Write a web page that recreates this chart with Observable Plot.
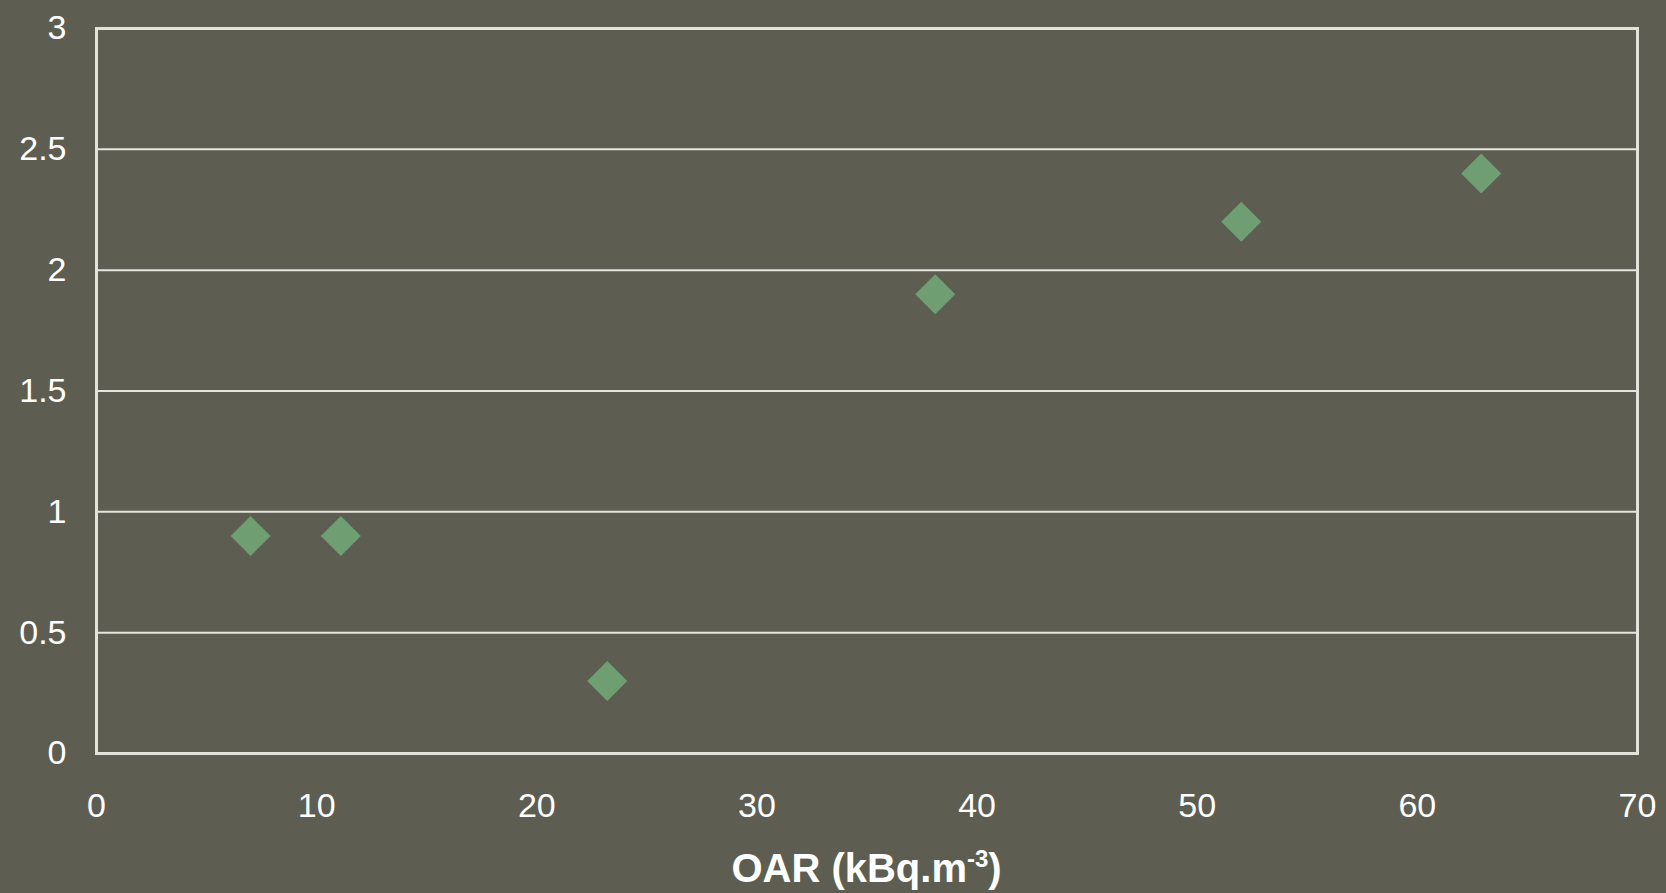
<!DOCTYPE html>
<html>
<head>
<meta charset="utf-8">
<script src="https://cdn.jsdelivr.net/npm/d3@7"></script>
<script src="https://cdn.jsdelivr.net/npm/@observablehq/plot@0.6"></script>
<style>
  html, body { margin: 0; padding: 0; background: #5d5e51; }
  #chart svg { display: block; }
</style>
</head>
<body>
<div id="chart"></div>
<script>
// Data
const oarValues = [7, 11.1, 23.2, 38.1, 52, 62.9];
const yValues = [0.9, 0.9, 0.3, 1.9, 2.2, 2.4];
const xTicks = [0, 10, 20, 30, 40, 50, 60, 70];
const yTicks = [0, 0.5, 1, 1.5, 2, 2.5, 3];
const yTickLabels = ["0", "0.5", "1", "1.5", "2", "2.5", "3"];
const xTitleMain = "OAR (kBq.m";
const xTitleSup = "-3";
const xTitleEnd = ")";

const points = oarValues.map((x, i) => ({x, y: yValues[i]}));

const W = 1666, H = 893;
const mL = 96, mR = 29, mT = 28, mB = 140;
const font = "'Liberation Sans', Arial, sans-serif";

function titleMark(index, scales, values, dimensions) {
  const {width, marginLeft, marginRight, height} = dimensions;
  const t = d3.create("svg:text")
    .attr("x", (marginLeft + width - marginRight) / 2)
    .attr("y", 882)
    .attr("text-anchor", "middle")
    .attr("fill", "white")
    .attr("font-family", font)
    .attr("font-weight", "bold")
    .attr("font-size", 40);
  t.append("tspan").text(xTitleMain);
  t.append("tspan").attr("font-size", 24).attr("dy", -15).text(xTitleSup);
  t.append("tspan").attr("dy", 15).text(xTitleEnd);
  return t.node();
}

const chart = Plot.plot({
  width: W,
  height: H,
  marginLeft: mL,
  marginRight: mR,
  marginTop: mT,
  marginBottom: mB,
  style: {background: "#5d5e51", color: "white", fontFamily: font, overflow: "visible"},
  x: {domain: [0, 70], label: null},
  y: {domain: [0, 3], label: null},
  marks: [
    Plot.ruleY(yTicks.slice(1, -1), {stroke: "#e6e6e0", strokeWidth: 2}),
    Plot.frame({stroke: "#e3e3dc", strokeWidth: 3}),
    Plot.axisX(xTicks, {tickSize: 0, tickPadding: 39, fontSize: 34, fill: "white", label: null}),
    Plot.axisY(yTicks, {tickSize: 0, tickPadding: 30, fontSize: 34, fill: "white", label: null,
      tickFormat: (d, i) => yTickLabels[yTicks.indexOf(d)]}),
    Plot.dot(points, {x: "x", y: "y", symbol: "diamond2", r: 18, fill: "#6f9e72", stroke: "none"}),
    titleMark
  ]
});
document.getElementById("chart").append(chart);
</script>
</body>
</html>
